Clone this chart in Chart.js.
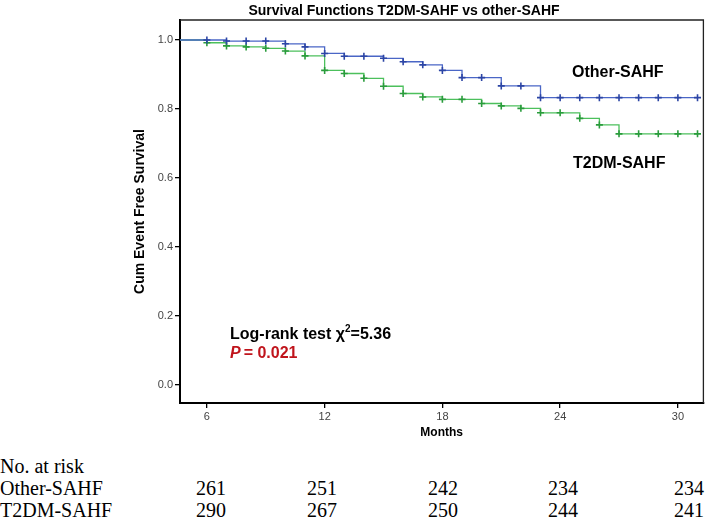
<!DOCTYPE html>
<html>
<head>
<meta charset="utf-8">
<script src="https://cdn.jsdelivr.net/npm/chart.js@4.4.1/dist/chart.umd.min.js"></script>
<style>
  html, body { margin: 0; padding: 0; background: #fff; }
  #wrap { position: relative; width: 709px; height: 520px; overflow: hidden; }
  #chart { position: absolute; left: 0; top: 0; }
  .risk { position: absolute; font-family: "Liberation Serif", "Times New Roman", serif; font-size: 20px; line-height: 22px; color: #000; white-space: nowrap; }
  .num { transform: translateX(-50%); }
</style>
</head>
<body>
<div id="wrap">
  <canvas id="chart" width="709" height="450"></canvas>
  <div id="riskTable"></div>
</div>
<script>
// months where the curves step / are censored (0 = start of follow-up)
const months = [0, 6, 7, 8, 9, 10, 11, 12, 13, 14, 15, 16, 17, 18, 19, 20, 21, 22, 23, 24, 25, 26, 27, 28, 29, 30, 31];
const otherSurv = [1, 1.000, 0.997, 0.997, 0.997, 0.989, 0.980, 0.961, 0.953, 0.953, 0.947, 0.937, 0.928, 0.912, 0.891, 0.891, 0.867, 0.867, 0.833, 0.833, 0.833, 0.833, 0.833, 0.833, 0.833, 0.833, 0.833];
const t2dmSurv = [1, 0.992, 0.983, 0.980, 0.976, 0.968, 0.954, 0.912, 0.903, 0.889, 0.866, 0.845, 0.835, 0.828, 0.828, 0.816, 0.809, 0.802, 0.789, 0.789, 0.773, 0.754, 0.728, 0.728, 0.728, 0.728, 0.728];

const xTicks = [6, 12, 18, 24, 30];
const yTicks = [0, 0.2, 0.4, 0.6, 0.8, 1.0];

const riskMonths = [6, 12, 18, 24, 30];
const riskOther = [261, 251, 242, 234, 234];
const riskT2dm = [290, 267, 250, 244, 241];

const FONT = '"Liberation Sans", Arial, sans-serif';

function toPoints(ys) {
  return months.map((m, i) => ({ x: m, y: ys[i] }));
}

// titles and in-plot labels
const labelsPlugin = {
  id: 'labels',
  afterDraw(chart) {
    const { ctx, chartArea } = chart;
    ctx.save();
    // top and right frame
    ctx.strokeStyle = '#222';
    ctx.lineWidth = 1.3;
    ctx.beginPath();
    ctx.moveTo(chartArea.left, chartArea.top);
    ctx.lineTo(chartArea.right, chartArea.top);
    ctx.lineTo(chartArea.right, chartArea.bottom);
    ctx.stroke();

    ctx.fillStyle = '#000';
    ctx.textBaseline = 'alphabetic';
    ctx.textAlign = 'center';
    ctx.font = `bold 14px ${FONT}`;
    ctx.fillText('Survival Functions T2DM-SAHF vs other-SAHF', 404, 15);

    ctx.textAlign = 'left';
    ctx.font = `bold 16px ${FONT}`;
    ctx.fillText('Other-SAHF', 572, 77);
    ctx.fillText('T2DM-SAHF', 573, 168);

    ctx.font = `bold 16px ${FONT}`;
    let x = 230;
    const t1 = 'Log-rank test \u03c7';
    ctx.fillText(t1, x, 339);
    x += ctx.measureText(t1).width;
    ctx.font = `bold 10px ${FONT}`;
    ctx.fillText('2', x, 332);
    x += ctx.measureText('2').width;
    ctx.font = `bold 16px ${FONT}`;
    ctx.fillText('=5.36', x, 339);

    ctx.fillStyle = '#C0141C';
    x = 230;
    ctx.font = `italic bold 16px ${FONT}`;
    ctx.fillText('P', x, 358);
    x += ctx.measureText('P').width + 3;
    ctx.font = `bold 16px ${FONT}`;
    ctx.fillText('= 0.021', x, 358);
    ctx.restore();
  }
};

new Chart(document.getElementById('chart'), {
  type: 'line',
  data: {
    datasets: [
      {
        label: 'Other-SAHF',
        data: toPoints(otherSurv),
        stepped: 'before',
        borderColor: '#4A66C6',
        borderWidth: 1.3,
        pointStyle: 'cross',
        pointRadius: ctx => ctx.dataIndex === 0 ? 0 : 3.5,
        pointBorderColor: '#2C45A5',
        pointBorderWidth: 1.6,
        fill: false
      },
      {
        label: 'T2DM-SAHF',
        data: toPoints(t2dmSurv),
        stepped: 'before',
        borderColor: '#4CC05C',
        borderWidth: 1.3,
        pointStyle: 'cross',
        pointRadius: ctx => ctx.dataIndex === 0 ? 0 : 3.5,
        pointBorderColor: '#2A9C3C',
        pointBorderWidth: 1.6,
        fill: false
      }
    ]
  },
  options: {
    responsive: false,
    animation: false,
    layout: { padding: { left: 132, top: 20, right: 5, bottom: 10 } },
    plugins: {
      legend: { display: false },
      title: { display: false },
      tooltip: { enabled: false }
    },
    scales: {
      x: {
        type: 'linear',
        min: 4.63,
        max: 31.3,
        afterBuildTicks: s => { s.ticks = xTicks.map(v => ({ value: v })); },
        afterFit: s => { s.height = 37; },
        grid: { drawOnChartArea: false, drawTicks: true, tickLength: 5, color: '#000', lineWidth: 1.3 },
        border: { display: true, color: '#000', width: 2 },
        ticks: { color: '#444', font: { family: FONT, size: 11 }, padding: 2, maxRotation: 0 },
        title: { display: true, text: 'Months', color: '#000', font: { family: FONT, size: 12, weight: 'bold' }, padding: 0 }
      },
      y: {
        type: 'linear',
        min: -0.052,
        max: 1.058,
        afterBuildTicks: s => { s.ticks = yTicks.map(v => ({ value: v })); },
        afterFit: s => { s.width = 48; },
        grid: { drawOnChartArea: false, drawTicks: true, tickLength: 5, color: '#000', lineWidth: 1.3 },
        border: { display: true, color: '#000', width: 2 },
        ticks: { color: '#444', font: { family: FONT, size: 11 }, padding: 2, callback: v => v.toFixed(1) },
        title: { display: true, text: 'Cum Event Free Survival', color: '#000', font: { family: FONT, size: 14, weight: 'bold' }, padding: 0 }
      }
    }
  },
  plugins: [labelsPlugin]
});

// number-at-risk table under the chart
const colX = [211, 322, 443, 563, 689];
const table = document.getElementById('riskTable');
function addText(text, left, centerY, cls) {
  const d = document.createElement('div');
  d.className = cls;
  d.textContent = text;
  d.style.left = left + 'px';
  d.style.top = (centerY - 11) + 'px';
  table.appendChild(d);
}
addText('No. at risk', 0, 466, 'risk');
addText('Other-SAHF', 0, 488, 'risk');
addText('T2DM-SAHF', 0, 510, 'risk');
riskMonths.forEach((m, i) => {
  addText(String(riskOther[i]), colX[i], 488, 'risk num');
  addText(String(riskT2dm[i]), colX[i], 510, 'risk num');
});
</script>
</body>
</html>
